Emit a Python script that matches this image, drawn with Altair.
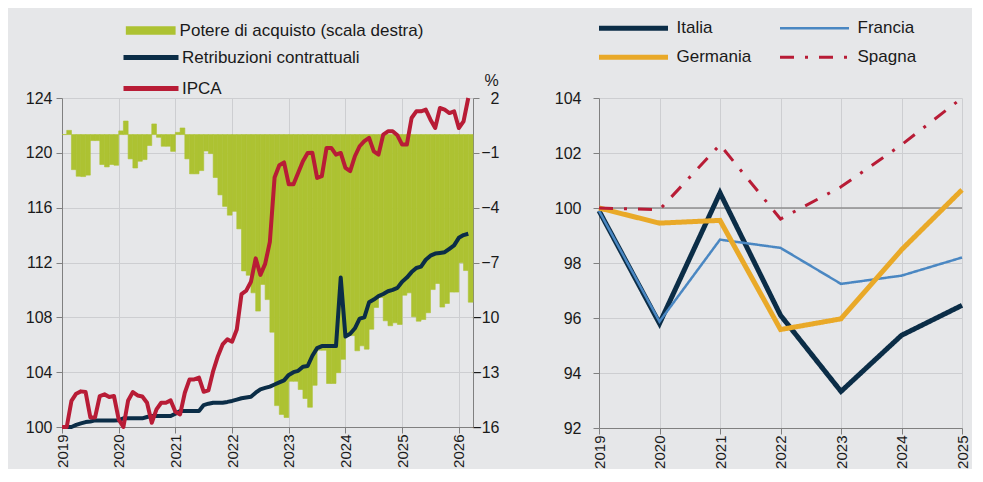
import altair as alt
import pandas as pd

FONT = "Liberation Sans"
NAVY = "#0b2d47"
RED = "#b81c36"
GREEN = "#adc232"
GOLD = "#e9a928"
BLUE = "#4a87c2"
BG = "#e6e7e9"

# ---------------- left panel data (monthly, Jan 2019 - Mar 2026) -------------
START_YEAR = 2019
potere = [0.0, 0.23, -1.92, -2.28, -2.3, -2.22, -0.33, -0.33, -1.64, -1.77, -1.64, -1.68,
          0.2, 0.74, -1.33, -1.83, -1.46, -1.37, -0.6, 0.58, -0.15, -0.64, -0.64, -0.92,
          0.12, 0.36, -1.33, -2.15, -2.15, -1.97, -0.9, -1.04, -2.35, -3.3, -3.93, -4.41,
          -4.2, -5.16, -7.46, -7.7, -8.66, -9.66, -8.2, -9.03, -10.81, -14.83, -15.31, -15.48,
          -13.5, -13.5, -13.95, -14.44, -14.92, -13.72, -11.8, -11.8, -13.62, -13.62, -13.03, -12.3,
          -11.0, -11.0, -11.83, -11.56, -11.74, -10.65, -9.46, -8.92, -10.19, -10.46, -10.3, -10.39,
          -8.79, -8.66, -9.97, -10.21, -10.12, -9.75, -8.48, -8.15, -9.44, -9.24, -8.62, -8.62,
          -7.02, -7.44, -9.17]
retribuzioni = [100.0, 100.0, 100.0, 100.15, 100.26, 100.36, 100.4, 100.48, 100.48, 100.48, 100.48, 100.48,
                100.5, 100.63, 100.63, 100.63, 100.63, 100.63, 100.73, 100.8, 100.8, 100.8, 100.8, 100.8,
                100.97, 101.17, 101.17, 101.17, 101.17, 101.17, 101.6, 101.7, 101.77, 101.77, 101.77, 101.83,
                101.9, 102.0, 102.1, 102.15, 102.2, 102.5, 102.75, 102.85, 102.95, 103.1, 103.25, 103.4,
                103.8, 104.0, 104.1, 104.4, 104.45, 105.2, 105.75, 105.9, 105.9, 105.9, 105.9, 110.9,
                106.6, 106.8, 107.2, 107.9, 108.0, 109.1, 109.3, 109.55, 109.7, 109.9, 110.0, 110.15,
                110.6, 110.9, 111.3, 111.6, 111.7, 112.2, 112.5, 112.65, 112.7, 112.75, 113.0, 113.25,
                113.8, 114.0, 114.1]
ipca = [100.0, 100.0, 101.9, 102.43, 102.6, 102.55, 100.7, 100.7, 102.26, 102.38, 102.19, 102.26,
        100.55, 100.0, 101.94, 102.55, 102.3, 102.23, 101.77, 100.31, 101.28, 101.77, 101.77, 101.94,
        101.11, 100.92, 102.5, 103.47, 103.47, 103.6, 102.57, 102.67, 104.08, 105.17, 106.02, 106.39,
        106.22, 107.11, 109.7, 109.95, 110.6, 112.3, 111.1, 111.9, 113.5, 118.2, 119.1, 119.3,
        117.7, 117.7, 118.54, 119.39, 119.99, 120.0, 118.17, 118.3, 120.36, 120.36, 119.87, 119.99,
        118.9, 118.66, 119.75, 120.48, 120.85, 121.09, 120.11, 119.87, 121.33, 121.57, 121.57, 121.28,
        120.6, 120.6, 122.54, 123.03, 123.03, 123.15, 122.42, 121.81, 123.27, 123.15, 122.9, 123.03,
        121.81, 122.3, 124.0]

BAR_NAME = "Potere di acquisto (scala destra)"
LINE_NAMES = ["Retribuzioni contrattuali", "IPCA"]
LEFT_YEAR_TICKS = [2019, 2020, 2021, 2022, 2023, 2024, 2025, 2026]
LEFT_Y_TICKS = [100, 104, 108, 112, 116, 120, 124]
RIGHT_Y_TICKS = [2, -1, -4, -7, -10, -13, -16]

# ---------------- right panel data (annual) ----------------
years = [2019, 2020, 2021, 2022, 2023, 2024, 2025]
italia = [99.9, 95.8, 100.55, 96.1, 93.33, 95.37, 96.46]
francia = [99.9, 95.87, 98.85, 98.55, 97.24, 97.54, 98.2]
germania = [100.0, 99.45, 99.55, 95.58, 95.97, 98.48, 100.66]
spagna = [100.0, 99.94, 102.3, 99.6, 100.77, 102.3, 104.0]
COUNTRIES = ["Italia", "Francia", "Germania", "Spagna"]

# ---------------- build tables ----------------
n = len(ipca)
t = [START_YEAR + i / 12 for i in range(n)]
df_bar = pd.DataFrame({"t": t, "t2": [v + 1 / 12 for v in t], "v": potere, "s": BAR_NAME})
df_lines = pd.concat([
    pd.DataFrame({"t": t, "v": retribuzioni, "s": LINE_NAMES[0], "o": 0}),
    pd.DataFrame({"t": t, "v": ipca, "s": LINE_NAMES[1], "o": 1}),
])
df_r = pd.concat([
    pd.DataFrame({"year": years, "v": vals, "c": name})
    for name, vals in zip(COUNTRIES, [italia, francia, germania, spagna])
])

# ---------------- left panel ----------------
x_left = alt.X("t:Q", scale=alt.Scale(domain=[2019, 2026.25], nice=False, zero=False),
               axis=alt.Axis(values=LEFT_YEAR_TICKS, format="d", labelAngle=-90, title=None,
                             grid=True, labelPadding=1, labelFontSize=15))

bars = alt.Chart(df_bar).mark_bar(stroke=GREEN, strokeWidth=0.6).encode(
    x=x_left,
    x2="t2:Q",
    y=alt.Y("v:Q", scale=alt.Scale(domain=[-16, 2], nice=False, zero=False),
            axis=alt.Axis(orient="right", values=RIGHT_Y_TICKS, grid=False, title="%",
                          titleAngle=0, titleX=18, titleY=-13, titleAlign="center",
                          titleBaseline="alphabetic", titleFontWeight="normal", titleFontSize=16,
                          titleFont=FONT, titleColor="#1a1a1a",
                          labelAlign="right", labelPadding=20)),
    y2=alt.datum(0),
    fill=alt.Fill("s:N", scale=alt.Scale(domain=[BAR_NAME], range=[GREEN]),
                  legend=alt.Legend(title=None, orient="none", legendX=63.6, legendY=-75.5,
                                    symbolType="M-1,-0.17H1V0.17H-1Z", symbolSize=2500,
                                    symbolStrokeWidth=0, symbolOpacity=1, clipHeight=16,
                                    labelFontSize=17, labelOffset=4, labelLimit=600)),
)

lines = alt.Chart(df_lines).mark_line(strokeWidth=4, strokeJoin="round").encode(
    x=x_left,
    y=alt.Y("v:Q", scale=alt.Scale(domain=[100, 124], nice=False, zero=False),
            axis=alt.Axis(orient="left", values=LEFT_Y_TICKS, grid=True, title=None,
                          labelPadding=4)),
    stroke=alt.Stroke("s:N", scale=alt.Scale(domain=LINE_NAMES, range=[NAVY, RED]),
                      legend=alt.Legend(title=None, orient="none", legendX=59, legendY=-48.5,
                                        symbolType="stroke", symbolSize=3025,
                                        symbolStrokeWidth=5, clipHeight=16, rowPadding=14,
                                        labelFontSize=17, labelOffset=1, labelLimit=600)),
    order="o:Q",
)

left = alt.layer(bars, lines).resolve_scale(y="independent").properties(width=411, height=329)

# ---------------- right panel ----------------
rule = alt.Chart(pd.DataFrame({"v": [100]})).mark_rule(color="#8e8e8e", strokeWidth=1.3).encode(
    y=alt.Y("v:Q")
)

right_legend = dict(title=None, orient="none", legendX=-2.5, legendY=-77.7, direction="horizontal",
                    columns=2, columnPadding=26, rowPadding=12, symbolType="stroke",
                    symbolSize=4761, clipHeight=16, labelFontSize=17, labelOffset=6,
                    labelLimit=600)

rlines = alt.Chart(df_r).mark_line(strokeCap="butt").encode(
    x=alt.X("year:Q", scale=alt.Scale(domain=[2019, 2025], nice=False, zero=False),
            axis=alt.Axis(values=years, format="d", labelAngle=-90, title=None, grid=True,
                          labelPadding=1, labelFontSize=15)),
    y=alt.Y("v:Q", scale=alt.Scale(domain=[92, 104], nice=False, zero=False),
            axis=alt.Axis(values=[92, 94, 96, 98, 100, 102, 104], grid=True, title=None,
                          labelPadding=12)),
    stroke=alt.Stroke("c:N", scale=alt.Scale(domain=COUNTRIES, range=[NAVY, BLUE, GOLD, RED]),
                      legend=alt.Legend(**right_legend)),
    strokeDash=alt.StrokeDash("c:N", scale=alt.Scale(domain=COUNTRIES,
                                                     range=[[1, 0], [1, 0], [1, 0], [14, 11, 3, 11]]),
                              legend=alt.Legend(**right_legend)),
    strokeWidth=alt.StrokeWidth("c:N", scale=alt.Scale(type="ordinal", domain=COUNTRIES,
                                                       range=[5, 2.5, 5, 3]),
                                legend=alt.Legend(**right_legend)),
)

right = alt.layer(rule, rlines).properties(width=363, height=330)

chart = alt.hconcat(left, right, spacing=55).resolve_scale(
    stroke="independent", strokeDash="independent", strokeWidth="independent", fill="independent"
).resolve_legend(
    stroke="independent", strokeDash="independent", strokeWidth="independent", fill="independent"
).configure(
    background=BG, padding={"left": 17, "top": 12, "right": 0, "bottom": 0}, font=FONT
).configure_view(stroke=None).configure_axis(
    labelFontSize=16, labelColor="#1a1a1a", labelFont=FONT, domainColor="#808080",
    tickColor="#808080", tickSize=6, gridColor="#cdced1", domainWidth=1, tickWidth=1
).configure_legend(labelColor="#1a1a1a", labelFont=FONT)

chart.save("out.html", embed_options={"renderer": "svg", "actions": False})
